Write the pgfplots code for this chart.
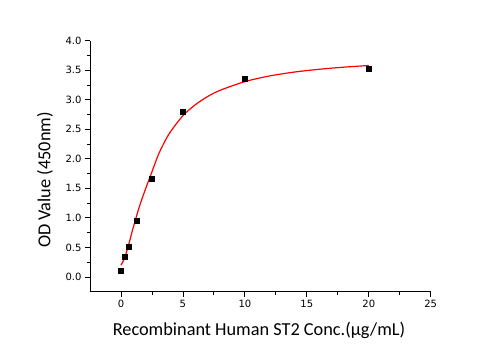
\documentclass[border=0pt]{standalone}
\usepackage{pgfplots}
\pgfplotsset{compat=1.18}
\usepackage{fontspec}
\setmainfont{Carlito}
\newfontfamily\tickfont{DejaVu Sans}
\begin{document}
\begin{tikzpicture}
\begin{axis}[
  scale only axis, width=340.7pt, height=251pt,
  xmin=-2.5, xmax=25, ymin=-0.25, ymax=4,
  axis lines=left, axis line style={-, black, line width=0.8pt},
  xtick={0,5,10,15,20,25}, minor x tick num=1,
  ytick={0,0.5,1,1.5,2,2.5,3,3.5,4}, minor y tick num=1,
  tick align=outside, major tick length=5pt, minor tick length=3pt,
  tick style={black, line width=0.8pt},
  /pgf/number format/assume math mode=true,
  yticklabel style={/pgf/number format/.cd, fixed, fixed zerofill, precision=1},
  ticklabel style={font=\tickfont\fontsize{10}{12}\selectfont},
  xlabel={Recombinant Human ST2 Conc.(μg/mL)},
  ylabel={OD Value (450nm)},
  label style={font=\fontsize{18.3}{21}\selectfont},
  xlabel style={at={(axis description cs:0.496,-0.153)}, anchor=center},
  ylabel style={at={(axis description cs:-0.132,0.445)}, anchor=center},
  clip=false,
]
\coordinate (O) at (rel axis cs:0,0);
\addplot[red, line width=1.2pt, smooth] coordinates {
  (0,0.20) (0.25,0.296) (0.5,0.458) (0.75,0.647) (1.0,0.844) (1.5,1.20)
  (2.0,1.50) (2.5,1.78) (3.0,2.06) (3.5,2.28) (4.0,2.46) (5.0,2.73)
  (6.0,2.916) (7.0,3.055) (8.0,3.16) (10,3.307) (12,3.403) (14,3.469)
  (16,3.516) (18,3.552) (20,3.58)
};
\addplot[only marks, mark=square*, mark size=2.6pt, black] coordinates {
  (0,0.10) (0.3125,0.345) (0.625,0.51) (1.25,0.955) (2.5,1.67)
  (5,2.80) (10,3.36) (20,3.53)
};
\end{axis}
\useasboundingbox ([xshift=-90pt,yshift=-58.3pt]O) rectangle ++(501pt,350pt);
\end{tikzpicture}
\end{document}
